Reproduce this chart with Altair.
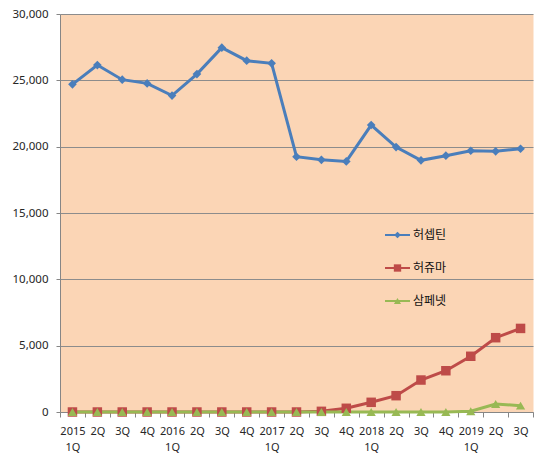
import altair as alt
import pandas as pd
import json

quarter_labels = [["2015", "1Q"], "2Q", "3Q", "4Q",
                  ["2016", "1Q"], "2Q", "3Q", "4Q",
                  ["2017", "1Q"], "2Q", "3Q", "4Q",
                  ["2018", "1Q"], "2Q", "3Q", "4Q",
                  ["2019", "1Q"], "2Q", "3Q"]

series_names = ["허셉틴", "허쥬마", "삼페넷"]

herceptin = [24700, 26150, 25050, 24770, 23850, 25470, 27460, 26480, 26280,
             19240, 19010, 18890, 21630, 19970, 18970, 19320, 19690, 19650, 19840]
herzuma = [0, 0, 0, 0, 0, 0, 0, 0, 0,
           0, 50, 280, 730, 1230, 2410, 3110, 4200, 5600, 6300]
samfenet = [0, 0, 0, 0, 0, 0, 0, 0, 0,
            0, 0, 0, 0, 0, 0, 0, 60, 600, 480]

colors = ["#4A7EBB", "#BE4B48", "#98B954"]
shapes = ["diamond", "square", "triangle-up"]
marker_sizes = [75, 90, 85]

n = len(quarter_labels)
rows = []
for name, vals in zip(series_names, [herceptin, herzuma, samfenet]):
    for i, v in enumerate(vals):
        rows.append({"idx": i, "series": name, "value": v})
df = pd.DataFrame(rows)
legend_df = pd.DataFrame({"series": series_names})

plot_w = 473
plot_h = 398
band = plot_w / n

label_array = json.dumps(quarter_labels + [""], ensure_ascii=False)
tick_values = [i - 0.5 for i in range(n + 1)]

color_scale = alt.Scale(domain=series_names, range=colors)

x_enc = alt.X(
    "idx:Q",
    scale=alt.Scale(domain=[-0.5, n - 0.5], nice=False, zero=False),
    axis=alt.Axis(
        title=None,
        values=tick_values,
        labelExpr=f"{label_array}[round(datum.value + 0.5)]",
        labelOffset=band / 2,
        labelAngle=0,
        labelAlign="center",
        labelFlush=False,
        labelOverlap=False,
        tickSize=5,
        labelPadding=8,
        labelFont="Noto Sans",
        labelFontSize=11,
        labelColor="#262626",
        labelLineHeight=16,
        domainColor="#868686",
        tickColor="#868686",
        grid=False,
    ),
)
y_enc = alt.Y(
    "value:Q",
    scale=alt.Scale(domain=[0, 30000], nice=False),
    axis=alt.Axis(
        title=None,
        values=[0, 5000, 10000, 15000, 20000, 25000, 30000],
        format=",d",
        tickSize=4,
        labelPadding=8,
        labelFont="Noto Sans",
        labelFontSize=11.5,
        labelColor="#262626",
        domainColor="#868686",
        tickColor="#868686",
        gridColor="#8C8C8C",
        gridWidth=1,
    ),
)

base = alt.Chart(df)

lines = base.mark_line(strokeWidth=3).encode(
    x=x_enc,
    y=y_enc,
    color=alt.Color("series:N", scale=color_scale, legend=None),
)

point_layers = []
for name, shp, sz in zip(series_names, shapes, marker_sizes):
    point_layers.append(
        base.transform_filter(alt.datum.series == name)
        .mark_point(filled=True, opacity=1, size=sz, shape=shp)
        .encode(
            x=x_enc,
            y=y_enc,
            color=alt.Color("series:N", scale=color_scale, legend=None),
        )
    )

# legend drawn inside the plot, as in the original
legend_layers = []
legend_top = 221
legend_step = 33
for i, (name, col, shp, sz) in enumerate(zip(series_names, colors, shapes, marker_sizes)):
    row_y = legend_top + legend_step * i
    leg = alt.Chart(legend_df).transform_filter(alt.datum.series == name)
    legend_layers.append(
        leg.mark_rule(color=col, strokeWidth=2).encode(
            x=alt.value(325), x2=alt.value(350), y=alt.value(row_y)
        )
    )
    legend_layers.append(
        leg.mark_point(filled=True, opacity=1, color=col, shape=shp, size=sz * 0.6).encode(
            x=alt.value(337.5), y=alt.value(row_y)
        )
    )
    legend_layers.append(
        leg.mark_text(
            align="left", baseline="middle", font="Noto Sans CJK KR",
            fontSize=12, color="#111111"
        ).encode(x=alt.value(353), y=alt.value(row_y), text="series:N")
    )

chart = (
    alt.layer(lines, *point_layers, *legend_layers)
    .properties(
        width=plot_w,
        height=plot_h,
        autosize=alt.AutoSizeParams(type="none"),
        padding={"left": 60, "top": 14, "right": 17, "bottom": 61},
        background="white",
    )
    .configure_view(fill="#FBD5B5", stroke="transparent")
)

chart.save("out.html", embed_options={"renderer": "svg", "actions": False})
